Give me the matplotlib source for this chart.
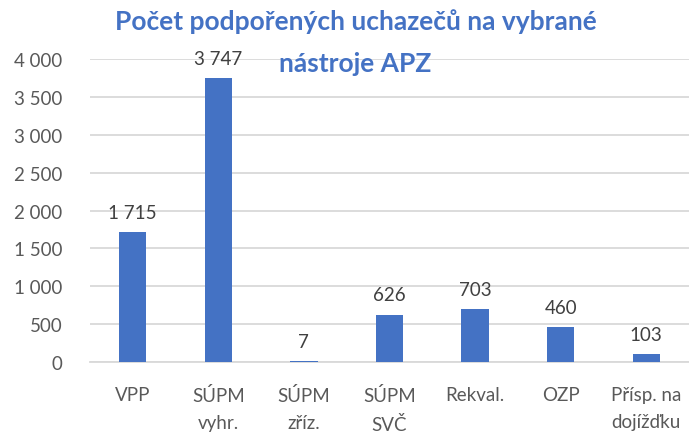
import matplotlib
matplotlib.use("Agg")
import matplotlib.pyplot as plt
from matplotlib.ticker import FuncFormatter

categories = ["VPP", "SÚPM\nvyhr.", "SÚPM\nzříz.", "SÚPM\nSVČ", "Rekval.", "OZP", "Přísp. na\ndojížďku"]
values = [1715, 3747, 7, 626, 703, 460, 103]
yticks = [0, 500, 1000, 1500, 2000, 2500, 3000, 3500, 4000]
title_lines = ["Počet podpořených uchazečů na vybrané", "nástroje APZ"]

plt.rcParams['font.family'] = ['Lato', 'DejaVu Sans']

fig = plt.figure(figsize=(6.89, 4.35), dpi=100)
ax = fig.add_axes([0.1306, 0.1655, 0.8694, 0.6965])

x = list(range(len(categories)))
bars = ax.bar(x, values, width=0.32, color="#4472C4", zorder=3)

def fmt(v):
    return f"{int(v):,}".replace(",", " ")

for xi, v in zip(x, values):
    ax.annotate(fmt(v), (xi, v), xytext=(0, 8), textcoords="offset points",
                ha="center", va="bottom", fontsize=13.5, color="#404040")

ax.set_xlim(-0.5, len(categories) - 0.5)
ax.set_ylim(0, 4000)
ax.set_yticks(yticks)
ax.yaxis.set_major_formatter(FuncFormatter(lambda v, p: fmt(v)))
ax.set_xticks(x)
ax.set_xticklabels(categories, linespacing=1.75)
ax.grid(axis="y", color="#D9D9D9", linewidth=1.3, zorder=0)
for s in ["top", "right", "left"]:
    ax.spines[s].set_visible(False)
ax.spines["bottom"].set_color("#D9D9D9")
ax.spines["bottom"].set_linewidth(1.3)
ax.tick_params(axis="both", length=0, labelsize=13.5, colors="#595959")
ax.tick_params(axis="x", pad=17)
ax.tick_params(axis="y", pad=20)

for i, line in enumerate(title_lines):
    fig.text(0.516, 0.978 - i * 0.0965, line,
             ha="center", va="top", fontsize=19, fontweight="bold", color="#4472C4")

fig.savefig("out.png", dpi=100)
